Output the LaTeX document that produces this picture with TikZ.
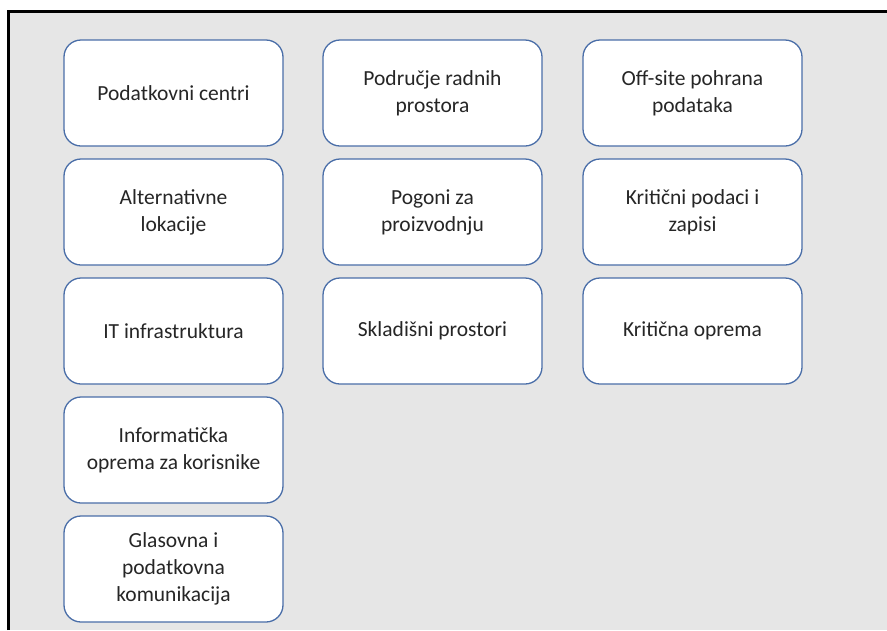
\documentclass[tikz,border=0pt]{standalone}
\usepackage{fontspec}
\setmainfont{Carlito}
\definecolor{okvir}{HTML}{4A6EA8}
\definecolor{pozadina}{HTML}{E6E6E6}
\tikzset{
  lokacija/.style={draw=okvir, line width=1.3pt, fill=white, rounded corners=17pt,
    minimum width=219pt, minimum height=106pt, align=center, text=black!85,
    font=\fontsize{21.5}{27}\selectfont, inner sep=4pt}
}
\begin{document}
\begin{tikzpicture}[x=1pt,y=-1pt]
    \useasboundingbox (0,0) rectangle (887,630);
    % podloga i okvir
    \fill[pozadina] (8.5,11) rectangle (887,630);
    \draw[black,line width=3pt] (8.5,630) -- (8.5,11) -- (887,11);
    % prvi stupac
    \node[lokacija] (PC) at (173.5,93)  {Podatkovni centri};
    \node[lokacija] (AL) at (173.5,212) {Alternativne\\lokacije};
    \node[lokacija] (IT) at (173.5,331) {IT infrastruktura};
    \node[lokacija] (IO) at (173.5,450) {Informatička\\oprema za korisnike};
    \node[lokacija] (GK) at (173.5,569) {Glasovna i\\podatkovna\\komunikacija};
    % drugi stupac
    \node[lokacija] (RP) at (432.5,93)  {Područje radnih\\prostora};
    \node[lokacija] (PP) at (432.5,212) {Pogoni za\\proizvodnju};
    \node[lokacija] (SP) at (432.5,331) {Skladišni prostori};
    % treći stupac
    \node[lokacija] (OP) at (692.5,93)  {Off-site pohrana\\podataka};
    \node[lokacija] (KP) at (692.5,212) {Kritični podaci i\\zapisi};
    \node[lokacija] (KO) at (692.5,331) {Kritična oprema};
  \end{tikzpicture}
\end{document}
